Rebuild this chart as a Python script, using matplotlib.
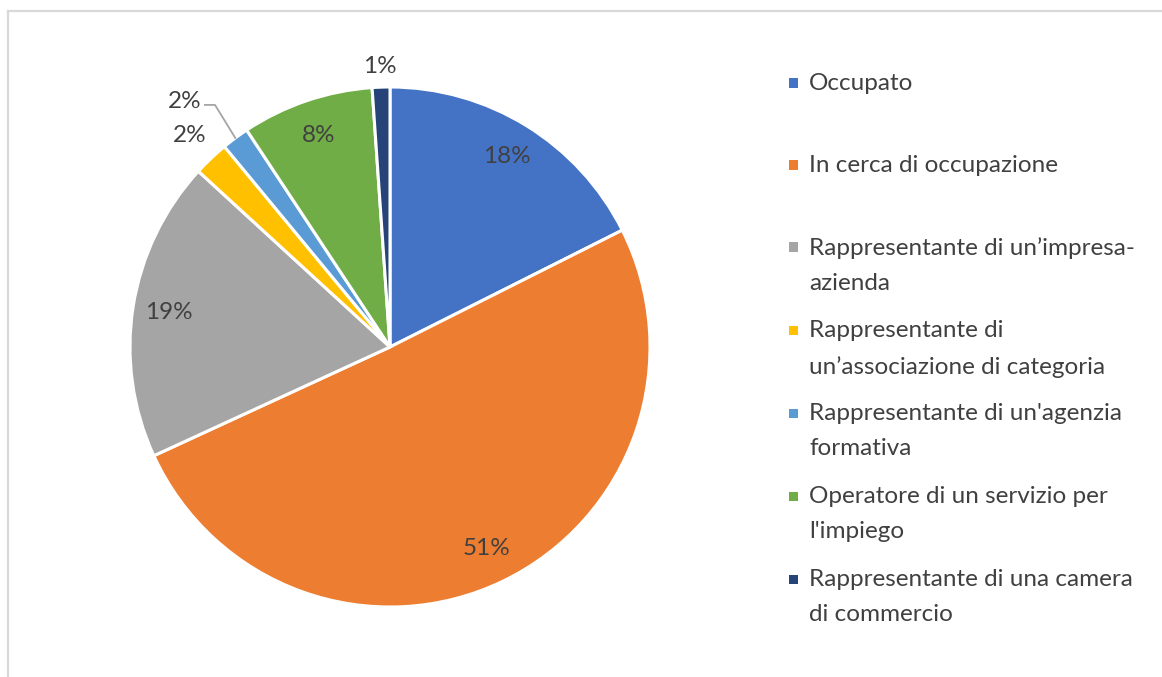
import matplotlib.pyplot as plt
import numpy as np
from matplotlib.lines import Line2D
from matplotlib.patches import Rectangle

plt.rcParams['font.family'] = ['Lato', 'DejaVu Sans']

# dati
categorie = ['Occupato',
             'In cerca di occupazione',
             'Rappresentante di un\u2019impresa-\nazienda',
             'Rappresentante di\nun\u2019associazione di categoria',
             "Rappresentante di un'agenzia\nformativa",
             "Operatore di un servizio per\nl'impiego",
             'Rappresentante di una camera\ndi commercio']
valori = [17.6, 50.6, 18.7, 2.2, 1.7, 8.2, 1.1]
colori = ['#4472C4', '#ED7D31', '#A5A5A5', '#FFC000', '#5B9BD5', '#70AD47', '#264478']

W, H = 1162, 677
fig = plt.figure(figsize=(W / 100, H / 100), dpi=100)
testo = '#404040'
fs_pct = 17.5
fs_leg = 17.5

# cornice grigia
fig.add_artist(Line2D([8 / W, 1], [1 - 11 / H, 1 - 11 / H], color='#D9D9D9', lw=1.6))
fig.add_artist(Line2D([8 / W, 8 / W], [0, 1 - 11 / H], color='#D9D9D9', lw=1.6))

cx, cy, r = 390, 347, 260
ax = fig.add_axes([(cx - r) / W, (H - cy - r) / H, 2 * r / W, 2 * r / H])
wedges, _ = ax.pie(valori, colors=colori, startangle=90, counterclock=False,
                   wedgeprops=dict(edgecolor='white', linewidth=2.2))
ax.set_xlim(-1, 1)
ax.set_ylim(-1, 1)
ax.set_aspect('auto')
ax.axis('off')

tot = sum(valori)
pct = [f'{v / tot * 100:.0f}%' for v in valori]
for i, w in enumerate(wedges):
    ang = np.deg2rad((w.theta1 + w.theta2) / 2)
    if valori[i] > 5:
        d = 0.86
        ax.text(d * np.cos(ang), d * np.sin(ang), pct[i], ha='center', va='center',
                fontsize=fs_pct, color=testo, clip_on=False)

# etichette esterne
# giallo
ang = np.deg2rad((wedges[3].theta1 + wedges[3].theta2) / 2)
ax.text(1.12 * np.cos(ang), 1.12 * np.sin(ang), pct[3], ha='center', va='center',
        fontsize=fs_pct, color=testo, clip_on=False)
# navy
ang = np.deg2rad((wedges[6].theta1 + wedges[6].theta2) / 2)
ax.text(1.08 * np.cos(ang), 1.08 * np.sin(ang), pct[6], ha='center', va='center',
        fontsize=fs_pct, color=testo, clip_on=False)
# azzurro con linea guida
ang = np.deg2rad((wedges[4].theta1 + wedges[4].theta2) / 2)
x0, y0 = 1.0 * np.cos(ang), 1.0 * np.sin(ang)
ax.plot([x0, -0.673, -0.712], [y0, 0.931, 0.931], color='#A5A5A5', lw=1.3, clip_on=False)
ax.text(-0.725, 0.945, pct[4], ha='right', va='center', fontsize=fs_pct, color=testo,
        clip_on=False)

# legenda
ys = [83, 165, 247, 330, 413, 496, 579]
for i, lab in enumerate(categorie):
    y = ys[i]
    fig.add_artist(Rectangle(((793 - 4.5) / W, (H - y - 4.5) / H), 9 / W, 9 / H,
                             facecolor=colori[i], edgecolor='none', transform=fig.transFigure))
    fig.text(809 / W, (H - y + 10) / H, lab, ha='left', va='top', fontsize=fs_leg,
             color=testo, linespacing=1.85)

fig.savefig('out.png', dpi=100)
